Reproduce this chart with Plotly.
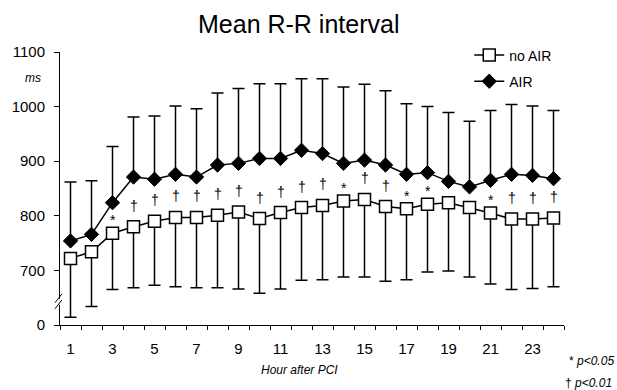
import plotly.graph_objects as go

hours = list(range(1, 25))
air_mean = [754, 766, 824, 871, 867, 876, 871, 893, 896, 905, 905, 920,
            914, 896, 902, 893, 876, 879, 863, 853, 865, 876, 874, 868]
air_upper = [862, 864, 927, 981, 983, 1001, 996, 1025, 1033, 1042, 1042, 1051,
             1051, 1036, 1041, 1029, 1005, 1000, 989, 973, 993, 1004, 1001, 993]
noair_mean = [722, 734, 768, 780, 790, 797, 797, 801, 807, 795, 806, 815,
              819, 827, 830, 817, 813, 821, 824, 815, 805, 794, 794, 796]
noair_lower = [614, 634, 665, 668, 673, 670, 668, 668, 666, 658, 666, 682,
               683, 688, 688, 680, 683, 697, 699, 688, 675, 665, 667, 670]
sig = ["", "", "*", "†", "†", "†", "†", "†", "†", "†", "†", "†",
       "†", "*", "†", "†", "*", "*", "", "", "*", "†", "†", "†"]
ytick_vals = [600, 700, 800, 900, 1000, 1100]
ytick_text = ["0", "700", "800", "900", "1000", "1100"]
xtick_vals = list(range(1, 25, 2))

FONT = "Liberation Sans, Arial, sans-serif"

fig = go.Figure()
fig.add_trace(go.Scatter(
    x=hours, y=noair_mean, name="no AIR", mode="lines+markers",
    legendgroup="a",
    line=dict(color="black", width=1.5),
    marker=dict(symbol="square", size=12, color="white",
                line=dict(color="black", width=1.5)),
    error_y=dict(type="data", symmetric=False,
                 array=[0] * len(hours),
                 arrayminus=[m - l for m, l in zip(noair_mean, noair_lower)],
                 color="black", thickness=1.5, width=6),
))
fig.add_trace(go.Scatter(
    x=hours, y=air_mean, name="AIR", mode="lines+markers",
    legendgroup="b",
    line=dict(color="black", width=1.5),
    marker=dict(symbol="diamond", size=11, color="black",
                line=dict(color="black", width=1)),
    error_y=dict(type="data", symmetric=False,
                 array=[u - m for u, m in zip(air_upper, air_mean)],
                 arrayminus=[0] * len(hours),
                 color="black", thickness=1.5, width=6),
))

annotations = []
for h, m, s in zip(hours, noair_mean, sig):
    if s:
        annotations.append(dict(
            x=h, y=m, xref="x", yref="y", text=s, showarrow=False,
            font=dict(family=FONT, size=14, color="black"),
            yanchor="middle", yshift=21 if s == "†" else 13))

annotations += [
    dict(x=0.473, y=1.1026, xref="paper", yref="paper", text="Mean R-R interval",
         showarrow=False, font=dict(family=FONT, size=25, color="black"),
         xanchor="center", yanchor="middle"),
    dict(x=-0.0533, y=0.9048, xref="paper", yref="paper", text="<i>ms</i>",
         showarrow=False, font=dict(family=FONT, size=12, color="black"),
         xanchor="center", yanchor="middle"),
    dict(x=0.4753, y=-0.1648, xref="paper", yref="paper", text="<i>Hour after PCI</i>",
         showarrow=False, font=dict(family=FONT, size=12, color="black"),
         xanchor="center", yanchor="middle"),
    dict(x=1.006, y=-0.1319, xref="paper", yref="paper", text="* <i>p<0.05</i>",
         showarrow=False, font=dict(family=FONT, size=12, color="black"),
         xanchor="left", yanchor="middle"),
    dict(x=0.998, y=-0.2125, xref="paper", yref="paper", text="† <i>p<0.01</i>",
         showarrow=False, font=dict(family=FONT, size=12, color="black"),
         xanchor="left", yanchor="middle"),
]

shapes = [
    # white gap in the y axis (scale break)
    dict(type="rect", xref="paper", yref="y", xsizemode="pixel", xanchor=0,
         x0=-2, x1=2, y0=637, y1=648, fillcolor="white", line=dict(width=0),
         layer="above"),
    dict(type="line", xref="paper", yref="y", xsizemode="pixel", xanchor=0,
         ysizemode="pixel", yanchor=648, x0=-5, x1=2, y0=-4, y1=5,
         line=dict(color="black", width=1), layer="above"),
    dict(type="line", xref="paper", yref="y", xsizemode="pixel", xanchor=0,
         ysizemode="pixel", yanchor=637, x0=-5, x1=2, y0=-4, y1=5,
         line=dict(color="black", width=1), layer="above"),
]

fig.update_layout(
    width=617, height=390,
    margin=dict(l=57, r=53, t=52, b=65),
    paper_bgcolor="white", plot_bgcolor="white",
    font=dict(family=FONT, size=15, color="black"),
    showlegend=True,
    legend=dict(x=0.812, y=1.046, xanchor="left", yanchor="top",
                bgcolor="rgba(0,0,0,0)", font=dict(family=FONT, size=14),
                traceorder="grouped", tracegroupgap=5),
    annotations=annotations,
    shapes=shapes,
)
fig.update_xaxes(
    range=[0.5, 24.5], tickmode="array", tickvals=xtick_vals,
    ticks="", showline=True, linecolor="black", linewidth=1,
    showgrid=False, zeroline=False, ticklabelstandoff=10,
    tickfont=dict(family=FONT, size=15),
    minor=dict(tick0=0.5, dtick=1, ticks="outside", ticklen=4,
               tickcolor="black", tickwidth=1, showgrid=False),
)
fig.update_yaxes(
    range=[600, 1100], tickmode="array", tickvals=ytick_vals, ticktext=ytick_text,
    ticks="outside", ticklen=5, tickcolor="black", tickwidth=1,
    showline=True, linecolor="black", linewidth=1,
    showgrid=False, zeroline=False, ticklabelstandoff=6,
    tickfont=dict(family=FONT, size=15),
)

fig.write_html("out.html")
